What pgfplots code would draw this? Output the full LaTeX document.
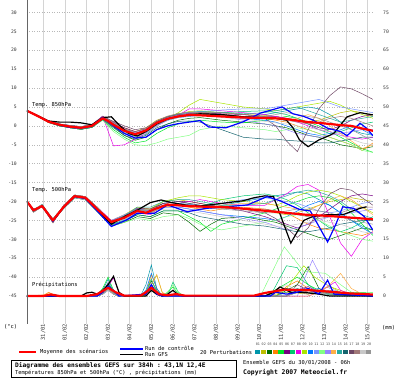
\documentclass[border=0pt]{standalone}
\usepackage{fontspec}
\setmonofont{DejaVu Sans Mono}
\usepackage{pgfplots}
\usepackage{pgfplotstable}
\pgfplotsset{compat=1.18}
\newcommand{\ft}{\fontsize{5.4}{6}\selectfont\ttfamily}
\newcommand{\fk}{\fontsize{4.7}{5}\selectfont\ttfamily}
\newcommand{\fn}{\fontsize{3.4}{4}\selectfont\ttfamily}
\definecolor{c01}{RGB}{0,150,170}
\definecolor{c02}{RGB}{190,190,0}
\definecolor{c03}{RGB}{0,110,0}
\definecolor{c04}{RGB}{255,130,0}
\definecolor{c05}{RGB}{0,230,40}
\definecolor{c06}{RGB}{120,0,130}
\definecolor{c07}{RGB}{0,200,110}
\definecolor{c08}{RGB}{235,0,235}
\definecolor{c09}{RGB}{170,230,0}
\definecolor{c10}{RGB}{0,120,255}
\definecolor{c11}{RGB}{120,150,255}
\definecolor{c12}{RGB}{130,255,130}
\definecolor{c13}{RGB}{150,130,255}
\definecolor{c14}{RGB}{255,175,70}
\definecolor{c15}{RGB}{40,170,160}
\definecolor{c16}{RGB}{20,100,110}
\definecolor{c17}{RGB}{110,70,100}
\definecolor{c18}{RGB}{160,120,120}
\definecolor{c19}{RGB}{200,200,200}
\definecolor{c20}{RGB}{150,150,150}
\tikzset{pert/.style={line width=0.5pt}}
\pgfplotsset{precip/.style={y filter/.expression={y-45}}}

% 850 hPa perturbations
\pgfplotstableread{
d p01 p02 p03 p04 p05 p06 p07 p08 p09 p10 p11 p12 p13 p14 p15 p16 p17 p18 p19 p20
0 4.0 4.0 4.0 4.0 4.0 4.0 4.0 4.0 4.0 4.0 4.0 4.0 4.0 4.0 4.0 4.0 4.0 4.0 4.0 4.0
0.5 2.7 2.5 2.6 2.7 2.6 2.6 2.7 2.5 2.5 2.7 2.6 2.6 2.5 2.7 2.6 2.6 2.6 2.5 2.7 2.6
1 1.2 1.0 0.9 1.2 0.9 1.3 1.2 1.0 1.0 1.2 1.3 0.9 1.0 1.2 1.3 0.9 1.3 1.0 1.2 1.3
1.5 0.2 0.4 0.0 0.2 0.0 0.5 0.2 0.4 0.4 0.2 0.5 0.0 0.4 0.2 0.5 0.0 0.5 0.4 0.2 0.5
2 -0.4 0.0 -0.5 -0.4 -0.5 0.1 -0.4 0.0 0.0 -0.4 0.1 -0.5 0.0 -0.4 0.1 -0.5 0.1 0.0 -0.4 0.1
2.5 -0.7 -0.3 -0.9 -0.7 -0.9 -0.2 -0.7 -0.3 -0.3 -0.7 -0.2 -0.9 -0.3 -0.7 -0.2 -0.9 -0.2 -0.3 -0.7 -0.2
3 -0.2 0.2 -0.4 -0.2 -0.4 0.3 -0.2 0.2 0.2 -0.2 0.3 -0.4 0.2 -0.2 0.3 -0.4 0.3 0.2 -0.2 0.3
3.5 2.4 2.0 1.8 2.2 1.6 2.6 1.9 2.5 2.1 2.3 2.0 1.5 2.2 2.0 2.3 1.7 2.4 2.5 2.0 2.2
4 0.5 0.8 -0.2 0.8 -1.0 1.0 0.0 -5.3 0.6 0.2 0.5 -1.5 0.8 0.3 0.6 -0.5 1.2 1.0 0.0 0.4
4.5 -1.8 -0.5 -2.5 -0.8 -3.0 -0.5 -2.0 -5.0 -1.0 -1.5 -1.2 -3.5 -0.8 -1.5 -1.0 -2.5 0.0 -0.8 -1.8 -1.2
5 -2.8 -1.5 -3.8 -2.0 -4.5 -1.5 -3.2 -3.5 -2.0 -2.5 -2.2 -5.0 -1.8 -2.6 -2.0 -3.5 -1.0 -1.6 -3.0 -2.4
5.5 -1.5 -0.5 -3.0 -1.0 -4.0 -0.8 -2.2 -2.0 -1.5 -1.8 -1.2 -5.2 -1.0 -1.6 -1.0 -2.5 -0.5 -0.6 -2.0 -1.4
6 0.5 1.5 -1.0 1.0 -2.0 1.0 0.0 0.0 0.5 0.2 0.8 -4.5 1.0 0.4 1.2 -0.5 1.2 1.4 0.0 0.6
6.5 1.6 2.5 0.5 2.0 -0.5 2.2 1.5 1.5 2.0 1.5 2.2 -3.5 2.2 1.8 2.4 0.5 2.4 2.6 1.5 2.0
7 2.4 3.2 1.5 2.8 0.5 3.0 2.5 2.8 3.5 2.2 3.0 -3.0 3.0 2.6 3.2 1.2 3.0 3.3 2.2 2.7
7.5 2.8 3.8 2.0 3.2 1.2 3.3 3.0 4.5 5.5 2.5 3.5 -2.5 3.2 3.0 3.6 1.3 3.2 3.5 2.6 3.0
8 3.0 4.0 2.2 3.3 1.5 3.5 3.4 4.5 7.0 2.8 3.8 -1.0 3.0 3.2 3.8 1.0 3.4 3.6 2.8 3.1
9 2.7 3.5 1.5 3.0 1.0 3.2 3.5 4.0 6.0 2.5 4.2 0.0 2.5 2.8 3.6 -1.0 3.0 3.5 2.2 2.8
10 2.5 3.0 1.0 2.5 0.8 3.0 3.8 3.5 5.0 2.0 4.5 -0.5 1.5 2.4 3.2 -3.0 2.5 3.0 1.8 2.5
11 3.0 2.8 0.5 2.0 1.5 2.5 4.0 3.0 4.5 1.5 4.5 -1.0 0.5 2.2 3.5 -3.5 2.0 2.5 1.2 2.5
11.5 3.5 2.5 0.0 1.5 2.0 2.5 3.5 2.5 4.0 1.0 5.0 -1.5 0.0 2.0 4.0 -3.5 0.0 2.0 0.8 3.0
12 4.0 2.0 -0.5 1.0 2.5 2.0 3.0 2.0 4.5 0.0 5.5 -1.0 -1.0 1.5 4.5 -3.8 -4.0 1.5 0.5 3.5
12.5 4.5 1.5 -1.5 0.0 2.0 1.5 2.0 1.0 5.0 -1.0 6.0 -0.5 -2.0 2.0 5.0 -4.0 -6.8 1.0 0.0 3.0
13 5.0 1.2 -2.5 -1.0 1.0 0.5 0.5 0.0 5.5 -2.0 6.5 -1.0 -2.5 3.0 4.0 -4.0 -1.0 0.5 -0.5 2.5
13.5 4.5 1.5 -3.0 -2.0 0.0 -0.5 -1.0 -1.0 6.0 -2.5 7.0 -2.0 -3.0 2.0 3.0 -4.5 4.5 1.0 -1.0 2.0
14 3.0 2.5 -4.0 -3.0 -1.5 -1.0 -2.0 -1.5 6.5 -2.0 6.0 -3.0 -2.5 0.0 2.0 -4.5 8.0 2.0 -1.5 1.0
14.5 1.0 3.5 -5.0 -4.0 -3.0 0.0 -1.5 -2.5 5.5 -1.0 5.0 -4.0 -2.0 -2.0 1.0 -4.0 10.3 2.5 -2.5 0.0
15 -1.0 4.0 -5.5 -5.0 -4.5 1.5 -0.5 -3.0 4.0 0.0 4.5 -5.0 -1.5 -4.0 1.5 -3.5 9.8 2.0 -3.5 -1.0
15.5 -2.0 3.5 -6.0 -6.5 -6.0 2.5 0.5 -3.5 3.0 -1.0 4.0 -6.5 -1.0 -6.0 2.0 -3.0 8.5 1.0 -4.5 -2.5
16 -2.5 2.5 -5.5 -4.5 -7.0 3.0 1.0 -3.0 2.0 -2.5 3.5 -7.0 -1.0 -5.0 2.5 -3.0 7.0 0.0 -5.0 -4.0
}\tabA

% 500 hPa perturbations
\pgfplotstableread{
d p01 p02 p03 p04 p05 p06 p07 p08 p09 p10 p11 p12 p13 p14 p15 p16 p17 p18 p19 p20
0 -20.0 -20.0 -20.0 -20.0 -20.0 -20.0 -20.0 -20.0 -20.0 -20.0 -20.0 -20.0 -20.0 -20.0 -20.0 -20.0 -20.0 -20.0 -20.0 -20.0
0.3 -22.5 -22.0 -22.2 -22.5 -22.8 -22.0 -22.5 -22.8 -22.0 -22.2 -22.5 -22.2 -22.0 -22.8 -22.0 -22.2 -22.8 -22.5 -22.2 -22.8
0.7 -21.0 -21.5 -20.8 -21.0 -21.3 -21.5 -21.0 -21.3 -21.5 -20.8 -21.0 -20.8 -21.5 -21.3 -21.5 -20.8 -21.3 -21.0 -20.8 -21.3
1.2 -25.3 -24.6 -24.8 -25.3 -25.6 -24.6 -25.3 -25.6 -24.6 -24.8 -25.3 -24.8 -24.6 -25.6 -24.6 -24.8 -25.6 -25.3 -24.8 -25.6
1.7 -21.6 -21.2 -21.8 -21.6 -21.0 -21.2 -21.6 -21.0 -21.2 -21.8 -21.6 -21.8 -21.2 -21.0 -21.2 -21.8 -21.0 -21.6 -21.8 -21.0
2.2 -18.5 -18.8 -19.0 -18.5 -18.3 -18.8 -18.5 -18.3 -18.8 -19.0 -18.5 -19.0 -18.8 -18.3 -18.8 -19.0 -18.3 -18.5 -19.0 -18.3
2.7 -19.0 -19.3 -19.5 -19.0 -18.7 -19.3 -19.0 -18.7 -19.3 -19.5 -19.0 -19.5 -19.3 -18.7 -19.3 -19.5 -18.7 -19.0 -19.5 -18.7
3.3 -22.5 -22.0 -23.0 -22.5 -21.8 -22.0 -22.5 -21.8 -22.0 -23.0 -22.5 -23.0 -22.0 -21.8 -22.0 -23.0 -21.8 -22.5 -23.0 -21.8
3.9 -25.8 -25.0 -26.5 -25.5 -26.0 -25.2 -25.6 -25.0 -25.4 -26.0 -25.3 -26.5 -25.0 -25.6 -25.2 -26.2 -25.5 -25.3 -25.8 -25.4
4.5 -24.5 -23.5 -25.5 -24.0 -25.0 -23.8 -24.2 -24.0 -24.0 -24.8 -23.8 -25.5 -23.5 -24.3 -23.8 -25.2 -24.0 -23.9 -24.8 -24.0
5.1 -22.0 -21.5 -24.0 -22.5 -23.5 -21.8 -22.3 -23.0 -22.0 -23.0 -22.0 -24.5 -22.0 -22.5 -21.5 -23.5 -22.0 -22.2 -23.0 -22.4
5.7 -22.5 -22.0 -24.5 -23.0 -24.0 -22.0 -22.8 -23.5 -22.0 -23.0 -22.5 -25.0 -22.5 -23.0 -21.5 -24.0 -22.0 -22.6 -23.3 -22.8
6.3 -20.5 -20.0 -23.0 -21.5 -22.5 -20.5 -21.0 -21.0 -20.0 -21.5 -21.0 -24.0 -21.5 -21.5 -20.0 -22.5 -20.5 -21.0 -22.0 -21.0
7 -20.0 -19.5 -23.5 -21.0 -22.5 -20.0 -20.5 -20.5 -19.0 -21.5 -20.5 -23.5 -21.5 -21.0 -19.5 -22.5 -20.0 -20.8 -22.0 -20.8
7.5 -20.5 -20.0 -25.5 -21.5 -24.0 -20.0 -20.8 -20.0 -18.5 -22.0 -20.8 -24.5 -22.0 -21.5 -19.5 -23.0 -20.5 -21.0 -22.5 -21.2
8 -21.0 -20.5 -27.9 -22.0 -25.5 -20.5 -21.2 -19.5 -18.5 -22.5 -21.0 -26.0 -22.5 -22.0 -20.0 -24.0 -21.0 -21.3 -23.0 -21.5
8.5 -21.5 -21.0 -26.0 -22.5 -27.9 -21.0 -20.5 -20.0 -19.0 -23.0 -21.0 -27.0 -23.0 -21.5 -20.5 -24.5 -21.0 -21.5 -23.5 -21.8
9 -21.0 -21.5 -24.5 -22.0 -26.0 -21.5 -19.5 -20.5 -19.5 -23.5 -20.5 -27.5 -23.5 -21.0 -21.0 -25.0 -21.5 -21.8 -24.0 -22.0
10 -20.0 -22.0 -24.0 -21.5 -24.5 -22.5 -18.5 -21.0 -20.0 -24.0 -19.5 -26.5 -24.5 -20.5 -21.0 -26.0 -22.0 -22.0 -25.0 -22.5
11 -19.0 -22.5 -25.0 -22.0 -23.0 -24.0 -18.0 -21.0 -20.5 -24.5 -19.0 -25.5 -25.5 -20.5 -20.5 -26.5 -23.0 -22.0 -26.0 -23.0
11.5 -18.5 -23.0 -25.5 -22.5 -22.0 -25.0 -18.5 -19.5 -21.0 -25.0 -19.5 -25.0 -26.5 -21.0 -19.5 -27.0 -24.5 -22.5 -26.5 -23.0
12 -18.0 -23.5 -26.5 -23.0 -21.0 -26.0 -19.5 -18.0 -20.0 -24.0 -20.0 -24.0 -27.5 -21.5 -18.5 -27.5 -27.0 -23.0 -26.5 -22.5
12.5 -17.5 -23.0 -27.5 -24.5 -20.0 -27.0 -21.0 -16.0 -18.5 -22.5 -20.5 -23.5 -27.0 -22.0 -17.5 -28.0 -29.5 -23.5 -26.0 -22.0
13 -18.0 -22.0 -28.5 -26.0 -19.0 -26.0 -23.0 -15.5 -17.5 -21.0 -21.5 -24.0 -26.0 -22.5 -17.0 -28.0 -27.0 -24.0 -25.5 -22.0
13.5 -19.5 -21.0 -29.5 -27.0 -18.5 -24.0 -25.0 -17.0 -17.0 -20.0 -22.5 -25.0 -25.0 -21.0 -17.5 -27.5 -22.0 -24.5 -25.0 -22.5
14 -21.0 -20.0 -30.0 -27.5 -19.0 -22.0 -27.0 -24.0 -17.5 -21.0 -23.0 -26.5 -24.0 -19.5 -18.5 -27.0 -18.0 -24.0 -25.5 -23.0
14.5 -23.0 -19.5 -29.0 -28.0 -20.5 -20.0 -28.0 -31.0 -18.5 -23.0 -22.5 -28.0 -23.5 -18.5 -20.0 -26.0 -16.5 -23.0 -26.0 -24.0
15 -25.0 -19.0 -28.0 -28.5 -23.0 -18.5 -27.0 -34.5 -20.0 -25.0 -21.5 -29.0 -23.0 -19.5 -22.0 -25.5 -17.0 -22.0 -27.0 -25.0
15.5 -26.5 -19.5 -27.0 -29.0 -26.0 -18.0 -25.5 -30.0 -21.5 -27.0 -20.5 -30.0 -22.5 -21.5 -23.5 -25.0 -19.0 -21.5 -28.0 -25.5
16 -27.5 -20.0 -27.5 -28.0 -29.0 -18.5 -24.0 -28.0 -23.0 -28.5 -20.0 -30.5 -22.0 -23.5 -24.5 -25.0 -21.0 -21.5 -28.5 -26.0
}\tabB

\begin{document}
\begin{tikzpicture}[x=1pt,y=1pt]
\useasboundingbox (0,0) rectangle (400,378);
\begin{axis}[
  at={(27pt,54pt)}, anchor=south west, scale only axis,
  width=346pt, height=324pt,
  xmin=0, xmax=16, ymin=-52.4, ymax=33.3,
  axis line style={draw=none}, major tick length=0pt,
  xtick={0.75,1.75,...,15.75},
  xticklabels={31/01,01/02,02/02,03/02,04/02,05/02,06/02,07/02,08/02,09/02,10/02,11/02,12/02,13/02,14/02,15/02},
  xticklabel style={font=\ft, rotate=90, anchor=east, inner sep=0pt, text=black!80},
  ytick={-45,-40,-35,-30,-25,-20,-15,-10,-5,0,5,10,15,20,25,30},
  yticklabels={-45,-40,-35,-30,-25,-20,-15,-10,-5,0,5,10,15,20,25,30},
  yticklabel style={font=\fk, anchor=east, inner sep=0pt, xshift=-10pt, text=black!80},
  xmajorgrids, ymajorgrids,
  x grid style={draw=black!17, line width=0.6pt},
  y grid style={draw=black!28, line width=0.5pt, dotted},
]
% perturbations 850 / 500
\pgfplotsinvokeforeach{01,02,03,04,05,06,07,08,09,10,11,12,13,14,15,16,17,18,19,20}{
  \addplot[pert, color=c#1] table[x=d,y=p#1]{\tabA};
  \addplot[pert, color=c#1] table[x=d,y=p#1]{\tabB};
}
% perturbations precipitation (mm)
\addplot[pert,color=c01,precip] coordinates {(0,0)(1,0)(1.25,0.5)(1.5,0)(3.25,0)(3.5,1.5)(3.75,4.5)(4,1)(4.25,0)(5.25,0)(5.5,3)(5.75,8.2)(6,2)(6.25,0)(11,0)(11.5,1.5)(12,2)(12.5,1)(13,1.5)(13.5,1)(14,0.5)(15,0.3)(16,0)};
\addplot[pert,color=c02,precip] coordinates {(0,0)(3.25,0)(3.5,1)(3.75,2.5)(4,0.5)(4.25,0)(5.5,0)(5.75,3)(6,5.5)(6.25,1)(6.5,0)(11,0)(12,1)(13,0.5)(14,2.5)(14.5,1.5)(15,0.5)(16,0.3)};
\addplot[pert,color=c03,precip] coordinates {(0,0)(3.25,0)(3.5,0.5)(3.75,3)(4,0.8)(4.5,0)(5.25,0)(5.5,1)(5.75,4)(6,1.5)(6.25,0)(11.5,0)(12,1.5)(12.5,3)(13,7.8)(13.5,2)(14,0.5)(16,0)};
\addplot[pert,color=c04,precip] coordinates {(0,0)(0.75,0)(1,1)(1.25,0.3)(1.5,0)(3.25,0)(3.5,1)(3.75,2)(4,0.5)(4.25,0)(5.25,0)(5.5,0.5)(5.75,5.7)(6,2)(6.25,0)(11.5,0)(12,2.5)(12.5,4)(13,2)(14,0.5)(14.5,1)(15,0.5)(16,0.2)};
\addplot[pert,color=c05,precip] coordinates {(0,0)(3,0)(3.25,0.3)(3.5,2)(3.75,5)(4,1.5)(4.25,0)(5.25,0)(5.5,0.5)(5.75,3)(6,1)(6.25,0)(6.5,1)(6.75,2.4)(7,0.5)(7.25,0)(11,0)(12.5,5)(13,3)(13.5,1.5)(14,0.5)(15,1)(16,0.8)};
\addplot[pert,color=c06,precip] coordinates {(0,0)(3.25,0)(3.5,1)(3.75,3.5)(4,1)(4.25,0)(5.25,0)(5.5,1)(5.75,3)(6,1)(6.25,0)(12,0)(12.5,1.5)(13,2.5)(13.5,1)(14,0.5)(16,0)};
\addplot[pert,color=c07,precip] coordinates {(0,0)(3.25,0)(3.5,1)(3.75,2.5)(4,0.5)(4.25,0)(5.25,0)(5.5,0.5)(5.75,2)(6,0.5)(6.25,0)(6.5,0)(6.75,3.7)(7,1)(7.25,0)(11.25,0)(12,8)(12.5,7.5)(13,3)(13.5,1)(14,0.3)(16,0)};
\addplot[pert,color=c08,precip] coordinates {(0,0)(3.25,0)(3.5,1.5)(3.75,2.5)(4,4.8)(4.25,1)(4.5,0)(5.25,0)(5.5,0.5)(5.75,2.5)(6,0.5)(6.25,0)(13,0)(13.5,1)(14.25,3.7)(14.5,1.5)(15,0.5)(16,0)};
\addplot[pert,color=c09,precip] coordinates {(0,0)(3.25,0)(3.5,0.5)(3.75,2)(4,0.5)(4.25,0)(5.25,0)(5.5,1)(5.75,4.5)(6,1)(6.25,0)(11.5,0)(12,2)(12.8,8)(13.3,5)(13.8,3.2)(14.5,1)(15,0.5)(16,0)};
\addplot[pert,color=c10,precip] coordinates {(0,0)(3.25,0)(3.5,1)(3.75,3)(4,1)(4.25,0)(5.25,0)(5.5,1.5)(5.75,6)(6,2)(6.25,0)(12,0)(12.5,1)(13,1.5)(13.5,2)(14,1)(14.5,0.5)(16,0)};
\addplot[pert,color=c11,precip] coordinates {(0,0)(3.25,0)(3.5,0.5)(3.75,1.5)(4,0.5)(4.25,0)(5.25,0)(5.5,0.5)(5.75,2)(6,0.5)(6.25,0)(12,0)(12.5,1)(13,2)(13.5,1.5)(14,1)(15,0.5)(16,0)};
\addplot[pert,color=c12,precip] coordinates {(0,0)(3.25,0)(3.5,0.5)(3.75,2)(4,1)(4.25,0)(5.25,0)(5.5,1)(5.75,3)(6,1)(6.25,0)(6.5,1)(6.75,2.9)(7,1)(7.25,0)(10.8,0)(11.9,13)(12.8,6.5)(13.8,6)(14.5,3)(15,1)(15.5,0.5)(16,1)};
\addplot[pert,color=c13,precip] coordinates {(0,0)(3.25,0)(3.5,1)(3.75,2.5)(4,1)(4.25,0)(5.25,0)(5.5,0.5)(5.75,2.5)(6,0.5)(6.25,0)(12.5,0)(13.2,9.5)(13.6,5)(14,2)(14.5,1)(15,0.3)(16,0)};
\addplot[pert,color=c14,precip] coordinates {(0,0)(0.75,0.3)(1,0.8)(1.25,0.3)(1.5,0)(3.25,0)(3.5,1)(3.75,2)(4,0.5)(4.25,0)(5.25,0)(5.5,0.5)(6,5.7)(6.25,1)(6.5,0)(13,0)(13.5,1)(14,3)(14.5,6)(15,2)(15.5,0.5)(16,0)};
\addplot[pert,color=c15,precip] coordinates {(0,0)(3.25,0)(3.5,0.5)(3.75,3.5)(4,1)(4.25,0)(5.25,0)(5.5,1)(5.75,4.5)(6,1)(6.25,0)(11.5,0)(12,1)(12.5,2)(13,1)(14,0.5)(16,0)};
\addplot[pert,color=c16,precip] coordinates {(0,0)(3.25,0)(3.5,1)(3.75,3)(4,1.5)(4.25,0)(5.25,0)(5.5,0.5)(5.75,2)(6,0.5)(6.25,0)(11,0)(11.5,1)(12,2)(12.5,1.5)(13,1)(14,0.5)(16,0)};
\addplot[pert,color=c17,precip] coordinates {(0,0)(3.25,0)(3.5,0.5)(3.75,1.5)(4,0.5)(4.25,0)(5.25,0)(5.5,0.5)(5.75,2)(6,0.5)(6.25,0)(12,0)(12.5,3)(13,1.5)(13.5,0.5)(14,1)(15,0.5)(16,0)};
\addplot[pert,color=c18,precip] coordinates {(0,0)(3.25,0)(3.5,0.5)(3.75,2)(4,0.5)(4.25,0)(5.25,0)(5.5,0.3)(5.75,1.5)(6,0.3)(6.25,0)(12,0)(12.5,1)(13,0.5)(14,1.5)(14.5,1)(16,0)};
\addplot[pert,color=c19,precip] coordinates {(0,0)(3.25,0)(3.5,0.5)(3.75,1.5)(4,0.5)(4.25,0)(5.25,0)(5.5,0.3)(5.75,1.5)(6,0.3)(6.25,0)(11,0)(12,3)(12.5,1.5)(13,1)(14,0.5)(16,0.3)};
\addplot[pert,color=c20,precip] coordinates {(0,0)(3.25,0)(3.5,0.5)(3.75,2)(4,0.5)(4.25,0)(5.25,0)(5.5,0.5)(5.75,2.5)(6,0.5)(6.25,0)(12,0)(12.5,1)(13,2)(13.5,1)(14.5,0.5)(16,0)};
% GFS run (black)
\addplot[black, line width=1.2pt] coordinates {(0,4.0)(0.5,2.7)(1,1.3)(1.5,1.0)(2,1.0)(2.5,0.8)(3,0.3)(3.5,2.2)(3.9,2.4)(4.3,0.0)(4.7,-2.0)(5.1,-2.7)(5.5,-1.5)(6,0.5)(6.5,1.8)(7,2.5)(7.5,2.8)(8,3.2)(9,3.0)(10,2.4)(11,2.2)(11.5,2.0)(12,1.5)(12.3,-0.5)(12.6,-3.7)(13,-5.5)(13.5,-3.7)(14,-2.5)(14.2,-1.9)(14.8,2.4)(15.4,3.5)(16,2.9)};
\addplot[black, line width=1.2pt] coordinates {(0,-20.0)(0.3,-22.4)(0.7,-21.1)(1.2,-25.1)(1.7,-21.5)(2.2,-18.6)(2.7,-19.1)(3.3,-22.5)(3.9,-26.0)(4.5,-24.0)(5.1,-22.3)(5.7,-20.3)(6.2,-19.6)(6.7,-20.3)(7.4,-21.0)(8,-21.2)(9,-20.5)(10,-19.8)(10.5,-19.0)(11,-18.5)(11.4,-18.7)(12.2,-31.0)(12.8,-25.0)(13.2,-24.0)(13.85,-23.5)(14.6,-23.5)(15.4,-21.8)(15.7,-21.4)};
\addplot[black, line width=1.2pt, precip] coordinates {(0,0)(2.5,0)(2.75,0.8)(3,1.0)(3.25,0.5)(3.5,1.5)(3.75,3.0)(4.0,5.2)(4.25,1.0)(4.5,0)(5.5,0)(5.75,1.5)(6,0.5)(6.25,0)(6.5,0.5)(6.75,1.5)(7,0.3)(7.25,0)(11,0)(11.4,1.0)(11.7,2.4)(12.2,1.0)(12.75,1.0)(13.5,0.5)(14,0)(16,0)};
% control run (blue)
\addplot[blue, line width=1.2pt] coordinates {(0,4.0)(0.5,2.6)(1,1.1)(1.5,0.2)(2,-0.4)(2.5,-0.6)(3,-0.1)(3.5,2.2)(4,0.0)(4.5,-2.0)(5,-3.2)(5.5,-3.0)(6,-1.0)(6.5,0.0)(7,0.6)(7.5,1.0)(8,1.4)(8.4,-0.3)(9.2,-0.5)(9.6,0.3)(10,1.1)(10.8,3.4)(11.8,5.0)(12.3,3.2)(12.8,2.5)(13.2,1.6)(13.9,-0.6)(14.5,-1.5)(14.8,-2.6)(15.1,-1.0)(15.4,0.7)(15.7,-0.6)(16,-2.6)};
\addplot[blue, line width=1.2pt] coordinates {(0,-20.0)(0.3,-22.3)(0.7,-21.2)(1.2,-25.2)(1.7,-21.4)(2.2,-18.7)(2.7,-19.2)(3.3,-22.8)(3.9,-26.6)(4.6,-24.9)(5.1,-23.1)(5.9,-23.1)(6.5,-20.9)(7.4,-22.7)(8.3,-21.8)(9.25,-21.4)(10.2,-20.9)(11.1,-18.7)(11.7,-19.8)(12.6,-22.1)(13.1,-22.5)(13.9,-30.7)(14.3,-25.8)(14.6,-21.4)(15.1,-21.8)(15.6,-24.0)(16,-27.6)};
\addplot[blue, line width=1.2pt, precip] coordinates {(0,0)(3.25,0)(3.5,1)(3.75,2.5)(4.0,1.5)(4.25,0)(5.5,0.5)(5.75,3.0)(6,0.5)(6.25,0)(11.25,0)(11.5,1)(12,0.5)(12.5,1.0)(13.0,2.0)(13.5,0.5)(13.9,4.2)(14.2,0.5)(15,0.3)(16,0)};
% ensemble mean (red)
\addplot[red, line width=2.2pt, line join=round] coordinates {(0,4.0)(0.5,2.6)(1,1.1)(1.5,0.3)(2,-0.2)(2.5,-0.5)(3,0.0)(3.25,1.0)(3.5,2.0)(3.75,1.3)(4,0.3)(4.5,-1.3)(5,-2.2)(5.5,-1.2)(6,0.8)(6.5,1.9)(7,2.5)(7.5,2.9)(8,2.8)(9,2.5)(10,2.2)(11,2.1)(11.5,2.0)(12,1.8)(12.5,1.4)(13,1.0)(13.5,0.8)(14,0.5)(14.5,0.2)(15,0.0)(15.5,-0.7)(16,-1.3)};
\addplot[red, line width=2.2pt, line join=round] coordinates {(0,-20.0)(0.3,-22.3)(0.7,-21.2)(1.2,-25.0)(1.7,-21.4)(2.2,-18.6)(2.7,-19.0)(3.3,-22.3)(3.9,-25.4)(4.5,-24.3)(5.1,-22.5)(5.5,-23.0)(5.9,-22.0)(6.5,-20.8)(7.4,-21.2)(8.3,-21.4)(9.25,-21.5)(10.2,-22.0)(11.1,-22.5)(12,-23.0)(12.9,-23.5)(13.9,-23.8)(14.8,-24.2)(16,-24.7)};
\addplot[red, line width=2.2pt, line join=round, precip] coordinates {(0,0)(0.75,0)(1.1,0.4)(1.5,0)(2.75,0)(3.25,0.5)(3.75,2.2)(4.1,1.0)(4.5,0.1)(5.25,0.1)(5.5,1.0)(5.75,2.2)(6.1,0.5)(6.5,0.2)(6.9,0.5)(7.3,0.1)(10.5,0.1)(11,0.8)(11.9,1.7)(12.5,1.6)(13.2,1.5)(14.1,1.1)(14.9,0.7)(16,0.4)};
% frame
\draw[black!60, line width=0.8pt] (rel axis cs:0,1) -- (rel axis cs:0,0) -- (rel axis cs:1,0) -- (rel axis cs:1,1);
\end{axis}
\begin{axis}[
  at={(27pt,54pt)}, anchor=south west, scale only axis,
  width=346pt, height=324pt,
  xmin=0, xmax=16, ymin=-7.4, ymax=78.3,
  axis x line=none, axis y line*=right, axis line style={draw=none},
  major tick length=0pt,
  ytick={0,5,10,15,20,25,30,35,40,45,50,55,60,65,70,75},
  yticklabels={0,5,10,15,20,25,30,35,40,45,50,55,60,65,70,75},
  yticklabel style={font=\fk, anchor=west, inner sep=0pt, xshift=10pt, text=black!80},
]
\end{axis}
% in-plot labels
\node[anchor=west, font=\ft, inner sep=0pt] at (32,273) {Temp. 850hPa};
\node[anchor=west, font=\ft, inner sep=0pt] at (32,188) {Temp. 500hPa};
\node[anchor=west, font=\ft, inner sep=0pt] at (32,93) {Précipitations};
\node[anchor=west, font=\ft, inner sep=0pt] at (4,51) {(°c)};
\node[anchor=west, font=\ft, inner sep=0pt] at (382,50) {(mm)};
% legend
\draw[red, line width=2pt] (19,26) -- (36,26);
\node[anchor=west, font=\ft, inner sep=0pt] at (40,26) {Moyenne des scénarios};
\draw[blue, line width=1.6pt] (120,29) -- (143,29);
\draw[black, line width=1.6pt] (120,23.5) -- (143,23.5);
\node[anchor=west, font=\ft, inner sep=0pt] at (145,29.3) {Run de contrôle};
\node[anchor=west, font=\ft, inner sep=0pt] at (145,23.5) {Run GFS};
\node[anchor=west, font=\ft, inner sep=0pt] at (200,26) {20 Perturbations};
\foreach \k/\n in {1/01,2/02,3/03,4/04,5/05,6/06,7/07,8/08,9/09,10/10,11/11,12/12,13/13,14/14,15/15,16/16,17/17,18/18,19/19,20/20}{
  \fill[c\n] ({255+5.85*(\k-1)},23.5) rectangle ++(5.3,4);
  \node[font=\fn, inner sep=0pt, text=black!70] at ({257.9+5.85*(\k-1)},33.5) {\n};
}
% title box
\draw[black, line width=0.8pt] (11.5,0.5) rectangle (236,18);
\node[anchor=west, font=\fontsize{6.2}{7}\selectfont\ttfamily\bfseries, inner sep=0pt] at (15,12.5) {Diagramme des ensembles GEFS sur 384h : 43,1N 12,4E};
\node[anchor=west, font=\ft, inner sep=0pt] at (15,5) {Températures 850hPa et 500hPa (°C) , précipitations (mm)};
\node[anchor=west, font=\ft, inner sep=0pt] at (243,15.7) {Ensemble GEFS du 30/01/2008 - 06h};
\node[anchor=west, font=\fontsize{6.4}{7}\selectfont\ttfamily\bfseries, inner sep=0pt] at (243,5.3) {Copyright 2007 Meteociel.fr};
\end{tikzpicture}
\end{document}
